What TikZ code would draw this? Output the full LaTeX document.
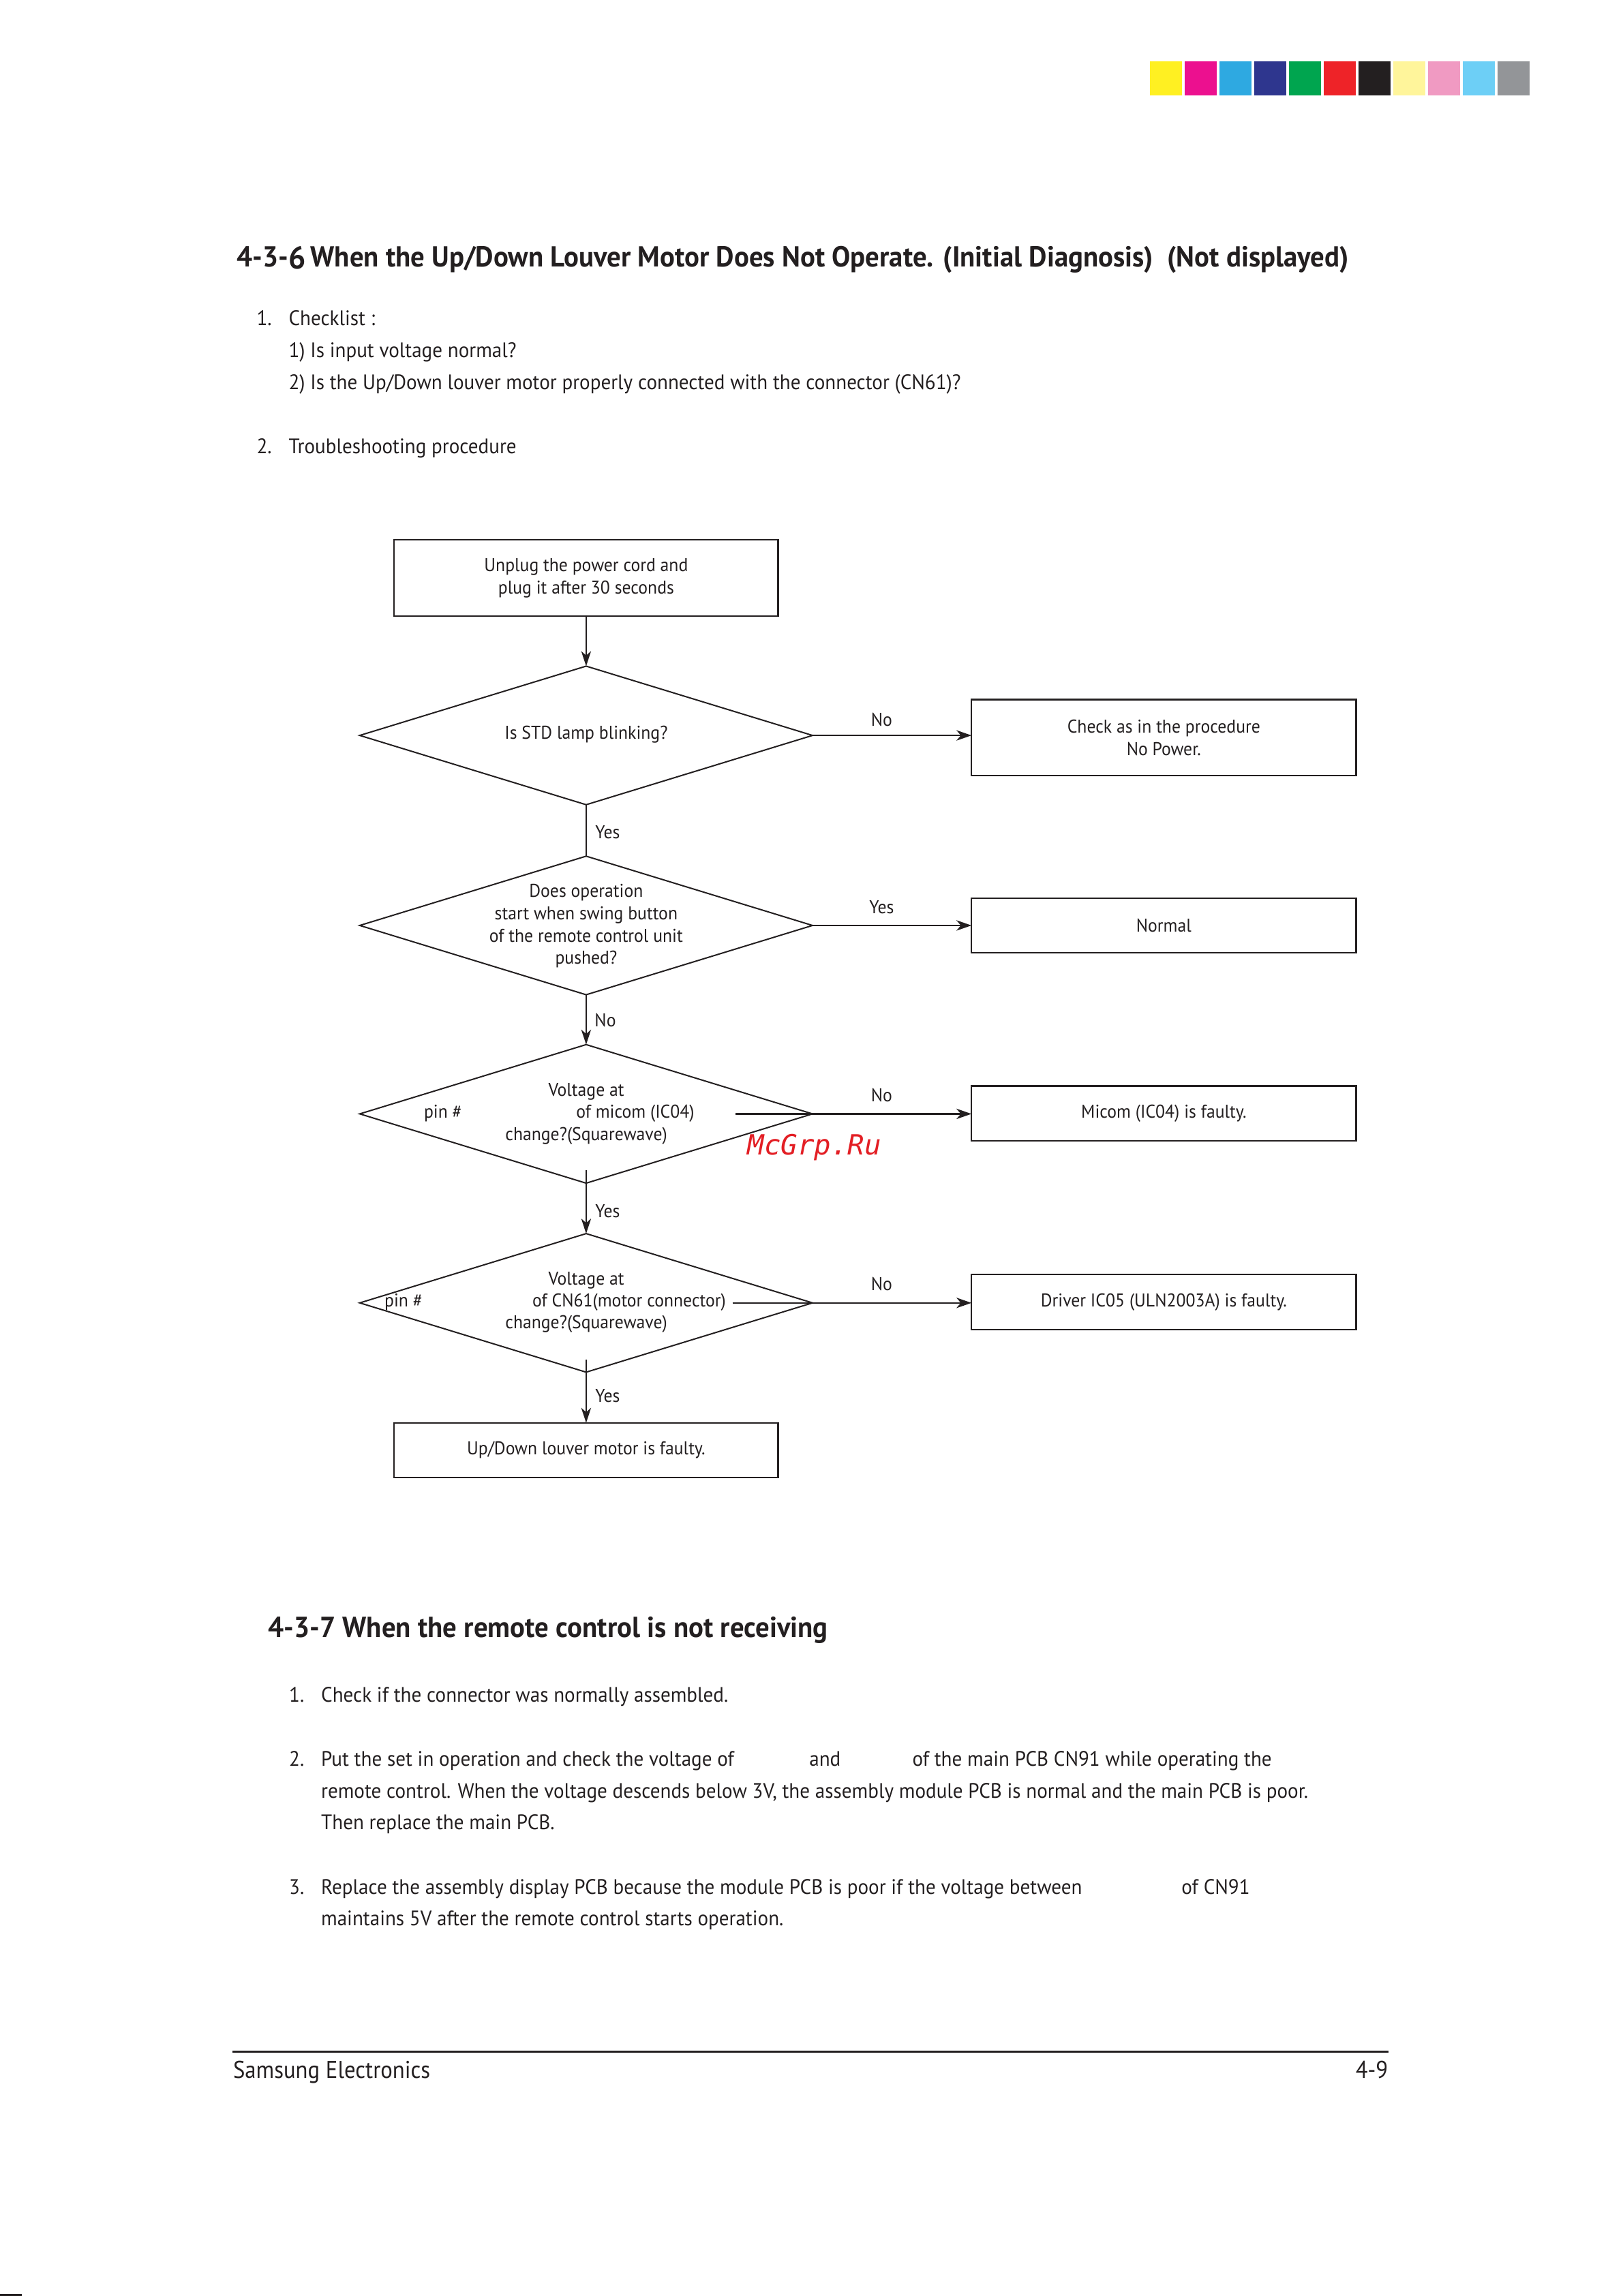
\documentclass[tikz,border=0pt]{standalone}
\usepackage{fontspec}
\setmainfont{PT Sans}[FakeStretch=0.945]
\newfontfamily\titlefam{PT Sans}[FakeStretch=0.962]
\newfontfamily\footfam{PT Sans}[FakeStretch=0.92]
\newfontfamily\wmfont{DejaVu Sans Mono}
\usetikzlibrary{shapes.geometric,arrows.meta}
\definecolor{ink}{HTML}{231F20}
\definecolor{sqA}{HTML}{FFF022}
\definecolor{sqB}{HTML}{EC108F}
\definecolor{sqC}{HTML}{2EA9E1}
\definecolor{sqD}{HTML}{2E368E}
\definecolor{sqE}{HTML}{00A54F}
\definecolor{sqF}{HTML}{EE2328}
\definecolor{sqG}{HTML}{231F20}
\definecolor{sqH}{HTML}{FFF59B}
\definecolor{sqI}{HTML}{F09AC2}
\definecolor{sqJ}{HTML}{6DCFF6}
\definecolor{sqK}{HTML}{939598}
\definecolor{wmred}{HTML}{E31E24}
\def\uu{0.5363pt}
\newcommand{\fcf}{\fontsize{6.8}{8.15}\selectfont}
\newcommand{\bdf}{\fontsize{7.7}{11.8}\selectfont}
\newcommand{\ttf}{\titlefam\fontsize{10.6}{12}\selectfont\bfseries}
\newcommand{\ftf}{\footfam\fontsize{8.9}{11}\selectfont}
\tikzset{
  fcbox/.style={draw=ink, line width=0.55pt, rectangle, inner sep=0pt, outer sep=0pt, align=center, font=\fcf, text=ink},
  fcdia/.style={draw=ink, line width=0.5pt, diamond, inner sep=0pt, outer sep=0pt, minimum width=309.7*\uu, minimum height=94.8*\uu},
  fctext/.style={inner sep=0pt, font=\fcf, text=ink, align=center},
  lbl/.style={inner sep=0pt, font=\fcf, text=ink},
  body/.style={anchor=base west, inner sep=0pt, font=\bdf, text=ink},
  vline/.style={draw=ink, line width=0.3pt},
  varrow/.style={draw=ink, line width=0.3pt, -{Stealth[length=5.5pt,width=3.6pt,inset=1.6pt]}},
  harrow/.style={draw=ink, line width=0.6pt, -{Stealth[length=5.5pt,width=3.8pt,inset=1.6pt]}},
}
\begin{document}
\begin{tikzpicture}[x=0.5363pt,y=-0.5363pt]
\useasboundingbox (0,0) rectangle (1110,1570.7);
\fill[white] (0,0) rectangle (1110,1570.7);
% colour bar
\foreach \c [count=\i from 0] in {sqA,sqB,sqC,sqD,sqE,sqF,sqG,sqH,sqI,sqJ,sqK}
  \fill[\c] (786.5+23.8*\i,41.8) rectangle ++(21.9,23.5);
% title
\node[anchor=base west, inner sep=0pt, font=\ttf, text=ink] (title1) at (161.7,182.7)
  {4-3-{\fontsize{11.6}{12}\selectfont\raisebox{-0.7pt}{6}}\,When the Up/Down Louver Motor Does Not Operate. (Initial Diagnosis)\ \ (Not displayed)};
% checklist
\node[body] (n1) at (175.2,222.5) {1.};
\node[body] (c1) at (197.1,222.5) {Checklist :};
\node[body] (c2) at (197.1,244.5) {1) Is input voltage normal?};
\node[body] (c3) at (197.1,266.5) {2) Is the Up/Down louver motor properly connected with the connector (CN61)?};
\node[body] (n2) at (175.2,310.5) {2.};
\node[body] (c4) at (197.1,310.5) {Troubleshooting procedure};
% flowchart
\node[fcbox, minimum width=262.6*\uu, minimum height=52*\uu] (b1) at (400.9,395.4) {Unplug the power cord and\\plug it after 30 seconds};
\node[fcdia] (d1) at (400.9,503.1) {};
\node[fctext] (d1t) at (400.9,502.5) {Is STD lamp blinking?};
\node[fcbox, minimum width=263.1*\uu, minimum height=52.1*\uu] (chk) at (796,504.6) {Check as in the procedure\\No Power.};
\node[fcdia] (d2) at (400.9,633.1) {};
\node[fctext] (d2t) at (400.9,633.5) {Does operation\\start when swing button\\of the remote control unit\\pushed?};
\node[fcbox, minimum width=263.1*\uu, minimum height=37.4*\uu] (nor) at (796,633.1) {Normal};
\node[fcdia] (d3) at (400.9,762) {};
\node[fctext] (d3a) at (401,746.7) {Voltage at};
\node[fctext] (d3b) at (303,761.5) {pin \#};
\node[fctext] (d3c) at (434.5,761.5) {of micom (IC04)};
\node[fctext] (d3d) at (401,777) {change?(Squarewave)};
\node[fcbox, minimum width=263.1*\uu, minimum height=37.5*\uu] (mic) at (796,761.7) {Micom (IC04) is faulty.};
\node[fcdia] (d4) at (400.9,891.3) {};
\node[fctext] (d4a) at (401,876) {Voltage at};
\node[fctext] (d4b) at (276,890.8) {pin \#};
\node[fctext] (d4c) at (430.3,890.8) {of CN61(motor connector)};
\node[fctext] (d4d) at (401,906) {change?(Squarewave)};
\node[fcbox, minimum width=263.1*\uu, minimum height=37.5*\uu] (drv) at (796,890.7) {Driver IC05 (ULN2003A) is faulty.};
\node[fcbox, minimum width=262.6*\uu, minimum height=37.5*\uu] (b2) at (400.9,992.1) {Up/Down louver motor is faulty.};
% connectors
\draw[varrow] (b1.south) -- (d1.north);
\draw[vline] (d1.south) -- (d2.north);
\draw[varrow] (d2.south) -- (d3.north);
\coordinate (d3out) at (400.9,800.5);
\draw[varrow] (d3out) -- (d4.north);
\coordinate (d4out) at (400.9,930);
\draw[varrow] (d4out) -- (b2.north);
\draw[harrow] (d1.east) -- (d1.east -| chk.west);
\draw[harrow] (d2.east) -- (d2.east -| nor.west);
\coordinate (d3h) at (503,762);
\draw[harrow] (d3h) -- (d3h -| mic.west);
\coordinate (d4h) at (501,891.3);
\draw[harrow] (d4h) -- (d4h -| drv.west);
% labels
\node[lbl] (l1) at (603,492.2) {No};
\node[lbl] (l2) at (603,620.8) {Yes};
\node[lbl] (l3) at (603,749.3) {No};
\node[lbl] (l4) at (603,878.3) {No};
\node[lbl] (l5) at (415.6,569.4) {Yes};
\node[lbl] (l6) at (414,698) {No};
\node[lbl] (l7) at (415.6,828.3) {Yes};
\node[lbl] (l8) at (415.6,954.9) {Yes};
% watermark
\node[inner sep=0pt, font=\wmfont\itshape\fontsize{10.2}{11}\selectfont, text=wmred] (wm) at (557,785) {McGrp.Ru};
% section 4-3-7
\node[anchor=base west, inner sep=0pt, font=\ttf, text=ink] (title2) at (183.2,1120.3) {4-3-7 When the remote control is not receiving};
\node[body] (m1) at (197.4,1164.3) {1.};
\node[body] (p1) at (219.3,1164.3) {Check if the connector was normally assembled.};
\node[body] (m2) at (197.4,1208.4) {2.};
\node[body] (p2a) at (219.3,1208.4) {Put the set in operation and check the voltage of};
\node[body] (p2b) at (553.2,1208.4) {and};
\node[body] (p2c) at (623.7,1208.4) {of the main PCB CN91 while operating the};
\node[body] (p2d) at (219.3,1230.1) {remote control. When the voltage descends below 3V, the assembly module PCB is normal and the main PCB is poor.};
\node[body] (p2e) at (219.3,1251.7) {Then replace the main PCB.};
\node[body] (m3) at (197.4,1295.8) {3.};
\node[body] (p3a) at (219.3,1295.8) {Replace the assembly display PCB because the module PCB is poor if the voltage between};
\node[body] (p3b) at (807.8,1295.8) {of CN91};
\node[body] (p3c) at (219.3,1317.4) {maintains 5V after the remote control starts operation.};
% footer
\coordinate (fl) at (159.1,1403.4);
\coordinate (fr) at (949.7,1403.4);
\draw[ink, line width=0.75pt] (fl) -- (fr);
\node[anchor=base west, inner sep=0pt, font=\ftf, text=ink] (foot1) at (159.1,1421.9) {Samsung Electronics};
\node[anchor=base east, inner sep=0pt, font=\ftf, text=ink] (foot2) at (949.7,1421.9) {4-9};
% corner mark
\fill[ink] (0,1569.4) rectangle (15,1570.7);
\end{tikzpicture}
\end{document}
